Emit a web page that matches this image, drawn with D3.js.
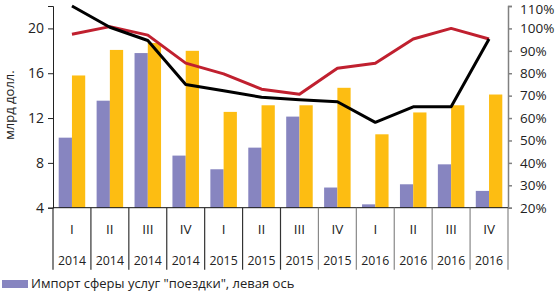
<!DOCTYPE html>
<html>
<head>
<meta charset="utf-8">
<script src="https://cdn.jsdelivr.net/npm/d3@7"></script>
<style>
  body { margin: 0; background: #fff; }
  svg { display: block; font-family: "Open Sans", sans-serif; }
</style>
</head>
<body>
<div id="chart"></div>
<script>
// quarters and years under the x axis
const quarters = ["I", "II", "III", "IV", "I", "II", "III", "IV", "I", "II", "III", "IV"];
const years = ["2014", "2014", "2014", "2014", "2015", "2015", "2015", "2015", "2016", "2016", "2016", "2016"];

// bars, left axis (bn USD)
const importTrips = [10.25, 13.55, 17.8, 8.65, 7.43, 9.36, 12.13, 5.8, 4.3, 6.09, 7.87, 5.5];
const importOther = [15.8, 18.08, 18.7, 18.0, 12.55, 13.14, 13.14, 14.7, 10.55, 12.5, 13.14, 14.1];

// lines, right axis (%)
const lineBlack = [110, 100.5, 94.6, 75, 72.2, 69.3, 68.2, 67.3, 58.1, 65, 65, 95.3];
const lineRed = [97.4, 100.8, 97, 84.5, 79.7, 72.9, 70.6, 82.2, 84.5, 95.3, 100, 95.3];

const leftTicks = [4, 8, 12, 16, 20];
const rightTicks = [20, 30, 40, 50, 60, 70, 80, 90, 100, 110];

const width = 559, height = 296;
const margin = { top: 6, right: 51, bottom: 88.3, left: 53 };

const svg = d3.select("#chart").append("svg")
  .attr("width", width)
  .attr("height", height);

const idx = d3.range(quarters.length);

const x = d3.scaleBand()
  .domain(idx)
  .range([margin.left, width - margin.right])
  .padding(0);

const xInner = d3.scaleBand()
  .domain(["trips", "other"])
  .range([0, x.bandwidth()])
  .paddingInner(0)
  .paddingOuter(0.43);

const y = d3.scaleLinear()
  .domain([4, 22])
  .range([height - margin.bottom, margin.top]);

const y2 = d3.scaleLinear()
  .domain([20, 110])
  .range([height - margin.bottom, margin.top]);

// bars
svg.append("g")
  .selectAll("rect")
  .data(idx)
  .join("rect")
    .attr("x", i => x(i) + xInner("trips"))
    .attr("y", i => y(importTrips[i]))
    .attr("width", xInner.bandwidth())
    .attr("height", i => y(4) - y(importTrips[i]))
    .attr("fill", "#8785c0");

svg.append("g")
  .selectAll("rect")
  .data(idx)
  .join("rect")
    .attr("x", i => x(i) + xInner("other"))
    .attr("y", i => y(importOther[i]))
    .attr("width", xInner.bandwidth())
    .attr("height", i => y(4) - y(importOther[i]))
    .attr("fill", "#fdbd12");

// lines
const line = d3.line()
  .x(i => x(i) + x.bandwidth() / 2);

svg.append("path")
  .attr("d", line.y(i => y2(lineRed[i]))(idx))
  .attr("fill", "none")
  .attr("stroke", "#c0202f")
  .attr("stroke-width", 3)
  .attr("stroke-linejoin", "round");

svg.append("path")
  .attr("d", line.y(i => y2(lineBlack[i]))(idx))
  .attr("fill", "none")
  .attr("stroke", "#000")
  .attr("stroke-width", 3)
  .attr("stroke-linejoin", "round");

// left axis
const gLeft = svg.append("g")
  .attr("transform", `translate(${margin.left},0)`)
  .call(d3.axisLeft(y).tickValues(leftTicks).tickSize(5).tickPadding(4));
gLeft.selectAll("text").attr("font-size", 14).attr("fill", "#222").style("font-family", "Open Sans");
gLeft.selectAll("line, path").attr("stroke", "#222");

// right axis
const gRight = svg.append("g")
  .attr("transform", `translate(${width - margin.right},0)`)
  .call(d3.axisRight(y2).tickValues(rightTicks).tickSize(4).tickPadding(8).tickFormat(d => d + "%"));
gRight.selectAll("text").attr("font-size", 13.5).attr("fill", "#222").style("font-family", "Open Sans");
gRight.selectAll("text").filter(d => d === 110).attr("dy", "0.55em");
gRight.selectAll("line, path").attr("stroke", "#808080").attr("stroke-width", 1.5);

// bottom axis line
svg.append("line")
  .attr("x1", margin.left).attr("x2", width - margin.right)
  .attr("y1", y(4)).attr("y2", y(4))
  .attr("stroke", "#111");

// category separators
const bounds = idx.map(i => x(i)).concat([x(11) + x.bandwidth()]);
svg.append("g")
  .selectAll("line")
  .data(bounds)
  .join("line")
    .attr("x1", d => d).attr("x2", d => d)
    .attr("y1", y(4)).attr("y2", y(4) + 62)
    .attr("stroke", (d, i) => i < 7 ? "#333" : "#888")
    .attr("stroke-width", 1.2);

// quarter labels
svg.append("g")
  .selectAll("text")
  .data(idx)
  .join("text")
    .attr("x", i => x(i) + x.bandwidth() / 2)
    .attr("y", 234)
    .attr("text-anchor", "middle")
    .attr("font-size", 13.5)
    .attr("fill", "#222")
    .text(i => quarters[i]);

// year labels
svg.append("g")
  .selectAll("text")
  .data(idx)
  .join("text")
    .attr("x", i => x(i) + x.bandwidth() / 2)
    .attr("y", 265)
    .attr("text-anchor", "middle")
    .attr("font-size", 12.3)
    .attr("fill", "#222")
    .text(i => years[i]);

// y label
svg.append("text")
  .attr("transform", "translate(14,105) rotate(-90)")
  .attr("text-anchor", "middle")
  .attr("font-size", 13)
  .attr("fill", "#222")
  .text("млрд долл.");

// legend
const legend = svg.append("g").attr("transform", "translate(2,280)");
legend.append("rect")
  .attr("x", 0).attr("y", 0)
  .attr("width", 26).attr("height", 8)
  .attr("fill", "#8785c0");
legend.append("text")
  .attr("x", 29).attr("y", 8)
  .attr("font-size", 13)
  .attr("fill", "#222")
  .text("Импорт сферы услуг \"поездки\", левая ось");
</script>
</body>
</html>
